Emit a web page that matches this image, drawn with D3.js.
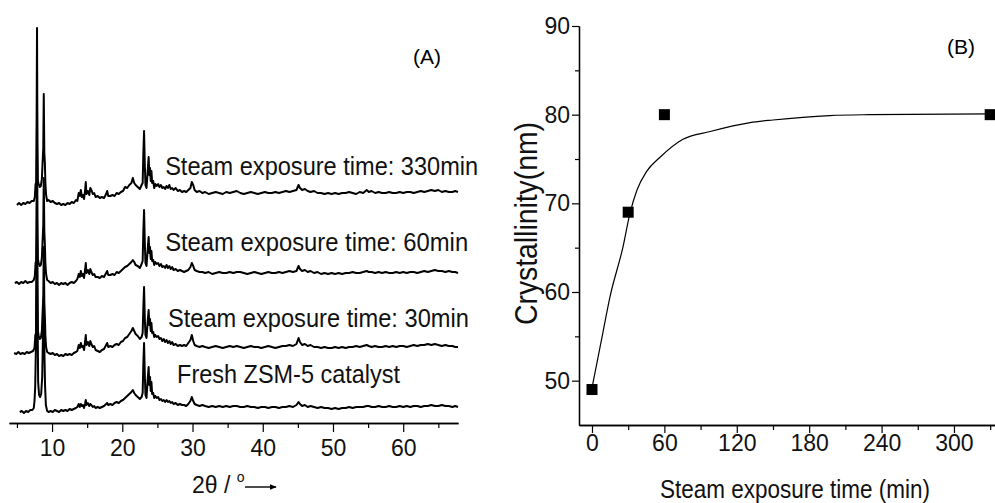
<!DOCTYPE html>
<html><head><meta charset="utf-8">
<script src="https://cdn.jsdelivr.net/npm/d3@7"></script>
<style>body{margin:0;background:#fff}svg{display:block}</style>
</head><body>
<svg id="chart" width="995" height="503"></svg>
<script>
// ---------- Panel A data: XRD patterns, [2theta (deg), intensity (a.u., above own baseline)] ----------
const xrdFresh = [[5.4,-5],[5.7,-4],[6.0,-6],[6.3,-4],[6.6,-5],[6.9,-3],[7.2,-3],[7.4,-1],[7.5,6],[7.6,20],[7.7,60],[7.78,130],[7.86,170],[7.94,90],[8.02,25],[8.15,12],[8.3,10],[8.45,13],[8.6,30],[8.7,70],[8.8,110],[8.9,60],[9.0,22],[9.12,2],[9.3,-4],[9.5,-5],[9.8,-4],[10.1,-5],[10.4,-3],[10.7,-4],[11.0,-5],[11.3,-3],[11.6,-4],[11.9,-3],[12.2,-4],[12.5,-2],[12.8,-3],[13.1,-2],[13.4,-1],[13.6,0],[13.8,3],[13.95,0],[14.1,3],[14.25,1],[14.4,2],[14.55,-1],[14.7,3],[14.8,7],[14.9,2],[15.1,4],[15.3,1],[15.45,3],[15.6,2],[15.8,0],[16.0,1],[16.2,-1],[16.5,0],[16.8,-1],[17.1,0],[17.4,1],[17.7,3],[17.85,4],[18.0,2],[18.3,3],[18.6,2],[18.9,4],[19.2,5],[19.5,4],[19.8,6],[20.1,7],[20.4,9],[20.7,11],[21.0,13],[21.3,15],[21.5,17],[21.7,14],[21.9,12],[22.2,10],[22.5,8],[22.75,10],[22.9,14],[23.0,44],[23.1,64],[23.2,34],[23.3,12],[23.45,9],[23.6,26],[23.75,40],[23.85,22],[23.95,30],[24.05,16],[24.15,25],[24.25,13],[24.4,14],[24.55,9],[24.7,11],[24.9,9],[25.1,10],[25.3,7],[25.5,8],[25.7,6],[25.9,7],[26.1,5],[26.3,7],[26.5,5],[26.7,6],[26.9,4],[27.1,5],[27.3,3],[27.6,4],[27.9,2],[28.2,3],[28.5,2],[28.8,2],[29.1,1],[29.4,3],[29.7,6],[29.9,10],[30.1,6],[30.3,3],[30.6,2],[31.0,1],[31.4,2],[31.8,1],[32.3,0],[32.8,1],[33.3,0],[33.8,1],[34.3,0],[34.8,1],[35.3,0],[35.8,1],[36.3,1],[36.8,0],[37.3,0],[37.8,1],[38.3,0],[38.8,0],[39.3,-1],[39.8,0],[40.3,0],[40.8,-1],[41.3,0],[41.8,0],[42.3,-1],[42.8,0],[43.3,0],[43.8,1],[44.3,0],[44.8,2],[45.1,5],[45.3,3],[45.6,1],[46.0,2],[46.4,0],[46.8,1],[47.3,0],[47.8,-1],[48.3,0],[48.8,-1],[49.3,-1],[49.8,-2],[50.3,-1],[50.8,-2],[51.3,-1],[51.8,-1],[52.3,0],[52.8,-1],[53.3,0],[53.8,0],[54.3,0],[54.8,1],[55.1,1],[55.5,0],[56.0,0],[56.5,1],[57.0,0],[57.5,0],[58.0,1],[58.5,0],[59.0,0],[59.5,1],[60.0,0],[60.5,1],[61.0,0],[61.5,1],[62.0,1],[62.5,0],[63.0,1],[63.5,1],[64.0,2],[64.5,1],[65.0,1],[65.5,2],[66.0,1],[66.5,1],[67.0,0],[67.4,1],[67.8,0]];

const xrd30 = [[4.6,-6],[4.9,-7],[5.2,-5],[5.5,-7],[5.8,-6],[6.1,-7],[6.4,-5],[6.7,-6],[7.0,-5],[7.3,-4],[7.5,-1],[7.62,12],[7.72,14],[7.8,80],[7.86,150],[7.92,60],[7.98,16],[8.1,11],[8.25,8],[8.4,9],[8.55,16],[8.65,34],[8.75,50],[8.82,100],[8.9,45],[8.98,30],[9.05,12],[9.15,0],[9.3,-5],[9.5,-6],[9.8,-7],[10.1,-6],[10.4,-8],[10.7,-7],[11.0,-9],[11.3,-8],[11.6,-9],[11.9,-7],[12.2,-8],[12.5,-7],[12.8,-8],[13.1,-6],[13.4,-5],[13.6,-4],[13.8,2],[13.95,-1],[14.1,4],[14.25,0],[14.4,1],[14.55,-3],[14.7,5],[14.8,12],[14.9,2],[15.1,5],[15.3,1],[15.45,6],[15.6,3],[15.8,0],[16.0,1],[16.2,-3],[16.5,-4],[16.8,-5],[17.1,-3],[17.4,-2],[17.7,2],[17.85,4],[18.0,0],[18.3,1],[18.6,0],[18.9,2],[19.2,3],[19.5,2],[19.8,5],[20.1,6],[20.4,9],[20.7,10],[21.0,13],[21.3,16],[21.5,19],[21.7,16],[21.9,13],[22.2,11],[22.5,8],[22.75,10],[22.9,14],[23.0,40],[23.1,60],[23.2,30],[23.3,12],[23.45,9],[23.6,24],[23.75,37],[23.85,22],[23.95,28],[24.05,16],[24.15,24],[24.25,14],[24.4,15],[24.55,10],[24.7,12],[24.9,10],[25.1,11],[25.3,8],[25.5,9],[25.7,6],[25.9,8],[26.1,5],[26.3,7],[26.5,4],[26.7,6],[26.9,3],[27.1,5],[27.3,2],[27.6,3],[27.9,1],[28.2,2],[28.5,1],[28.8,2],[29.1,1],[29.4,4],[29.7,7],[29.9,12],[30.1,6],[30.3,2],[30.6,1],[31.0,0],[31.4,1],[31.8,0],[32.3,-1],[32.8,0],[33.3,1],[33.8,0],[34.3,-1],[34.8,0],[35.3,1],[35.8,0],[36.3,1],[36.8,0],[37.3,-1],[37.8,0],[38.3,1],[38.8,0],[39.3,0],[39.8,-1],[40.3,0],[40.8,1],[41.3,0],[41.8,-1],[42.3,0],[42.8,1],[43.3,1],[43.8,2],[44.3,1],[44.8,3],[45.1,9],[45.3,5],[45.6,2],[46.0,3],[46.4,1],[46.8,2],[47.3,0],[47.8,0],[48.3,-1],[48.8,0],[49.3,-1],[49.8,-1],[50.3,0],[50.8,-1],[51.3,0],[51.8,-1],[52.3,0],[52.8,0],[53.3,1],[53.8,0],[54.3,1],[54.8,2],[55.1,1],[55.5,0],[56.0,1],[56.5,0],[57.0,0],[57.5,1],[58.0,0],[58.5,1],[59.0,0],[59.5,1],[60.0,1],[60.5,0],[61.0,1],[61.5,2],[62.0,1],[62.5,2],[63.0,2],[63.5,3],[64.0,2],[64.5,3],[65.0,2],[65.5,1],[66.0,2],[66.5,1],[67.0,1],[67.4,0],[67.8,0]];

const xrd60 = [[4.7,-10],[5.0,-9],[5.3,-11],[5.6,-9],[5.9,-10],[6.2,-8],[6.5,-10],[6.8,-9],[7.1,-9],[7.4,-7],[7.55,-3],[7.65,10],[7.74,12],[7.8,75],[7.86,160],[7.92,55],[7.98,14],[8.1,10],[8.25,7],[8.4,8],[8.55,15],[8.65,32],[8.75,48],[8.82,95],[8.9,42],[8.98,28],[9.05,10],[9.15,-1],[9.3,-7],[9.5,-8],[9.8,-10],[10.1,-9],[10.4,-11],[10.7,-10],[11.0,-12],[11.3,-10],[11.6,-11],[11.9,-10],[12.2,-12],[12.5,-10],[12.8,-9],[13.1,-10],[13.4,-8],[13.6,-6],[13.8,-1],[13.95,-4],[14.1,2],[14.25,-3],[14.4,-1],[14.55,-5],[14.7,3],[14.8,10],[14.9,0],[15.1,3],[15.3,-1],[15.45,4],[15.6,1],[15.8,-2],[16.0,-1],[16.2,-4],[16.5,-4],[16.8,-5],[17.1,-3],[17.4,-4],[17.7,0],[17.85,2],[18.0,-2],[18.3,-2],[18.6,-1],[18.9,-2],[19.2,1],[19.5,0],[19.8,2],[20.1,4],[20.4,6],[20.7,7],[21.0,9],[21.3,11],[21.5,13],[21.7,11],[21.9,8],[22.2,7],[22.5,5],[22.75,9],[22.9,12],[23.0,42],[23.1,63],[23.2,32],[23.3,10],[23.45,7],[23.6,22],[23.75,36],[23.85,20],[23.95,26],[24.05,14],[24.15,22],[24.25,12],[24.4,13],[24.55,8],[24.7,11],[24.9,9],[25.1,10],[25.3,7],[25.5,9],[25.7,6],[25.9,7],[26.1,5],[26.3,8],[26.5,5],[26.7,7],[26.9,4],[27.1,6],[27.3,3],[27.6,4],[27.9,2],[28.2,3],[28.5,2],[28.8,1],[29.1,2],[29.4,3],[29.7,6],[29.9,10],[30.1,7],[30.3,3],[30.6,2],[31.0,1],[31.4,1],[31.8,0],[32.3,1],[32.8,-1],[33.3,0],[33.8,1],[34.3,0],[34.8,0],[35.3,1],[35.8,0],[36.3,1],[36.8,1],[37.3,0],[37.8,-1],[38.3,0],[38.8,1],[39.3,0],[39.8,-1],[40.3,0],[40.8,1],[41.3,0],[41.8,0],[42.3,1],[42.8,0],[43.3,1],[43.8,2],[44.3,1],[44.8,2],[45.1,7],[45.3,4],[45.6,2],[46.0,3],[46.4,1],[46.8,2],[47.3,0],[47.8,1],[48.3,-1],[48.8,0],[49.3,-1],[49.8,0],[50.3,-1],[50.8,0],[51.3,-1],[51.8,0],[52.3,0],[52.8,1],[53.3,0],[53.8,0],[54.3,1],[54.8,2],[55.1,1],[55.5,1],[56.0,0],[56.5,1],[57.0,0],[57.5,1],[58.0,0],[58.5,0],[59.0,1],[59.5,0],[60.0,1],[60.5,0],[61.0,1],[61.5,1],[62.0,0],[62.5,1],[63.0,2],[63.5,1],[64.0,2],[64.5,3],[65.0,2],[65.5,2],[66.0,1],[66.5,2],[67.0,1],[67.4,1],[67.8,0]];

const xrd330 = [[5.0,-12],[5.3,-10],[5.6,-12],[5.9,-10],[6.2,-11],[6.5,-9],[6.8,-10],[7.1,-8],[7.4,-8],[7.55,-4],[7.65,9],[7.74,10],[7.8,70],[7.86,165],[7.92,50],[7.98,12],[8.1,9],[8.25,6],[8.4,7],[8.55,14],[8.65,30],[8.75,45],[8.82,99],[8.9,40],[8.98,30],[9.05,10],[9.15,-2],[9.3,-8],[9.5,-7],[9.8,-9],[10.1,-8],[10.4,-10],[10.7,-11],[11.0,-10],[11.3,-12],[11.6,-11],[11.9,-12],[12.2,-10],[12.5,-11],[12.8,-9],[13.1,-10],[13.4,-7],[13.6,-8],[13.8,0],[13.95,-3],[14.1,3],[14.25,-4],[14.4,-2],[14.55,-6],[14.7,2],[14.8,11],[14.9,-1],[15.1,2],[15.3,-2],[15.45,5],[15.6,3],[15.8,-1],[16.0,0],[16.2,-4],[16.5,-3],[16.8,-5],[17.1,-4],[17.4,-5],[17.7,-1],[17.85,2],[18.0,-3],[18.3,-3],[18.6,-2],[18.9,-3],[19.2,0],[19.5,-1],[19.8,1],[20.1,2],[20.4,6],[20.7,5],[21.0,8],[21.3,10],[21.5,15],[21.7,10],[21.9,8],[22.2,6],[22.5,4],[22.75,8],[22.9,10],[23.0,40],[23.1,62],[23.2,30],[23.3,8],[23.45,5],[23.6,20],[23.75,36],[23.85,18],[23.95,25],[24.05,12],[24.15,22],[24.25,10],[24.4,12],[24.55,5],[24.7,9],[24.9,7],[25.1,9],[25.3,6],[25.5,8],[25.7,5],[25.9,6],[26.1,4],[26.3,7],[26.5,5],[26.7,8],[26.9,4],[27.1,5],[27.3,3],[27.6,5],[27.9,2],[28.2,3],[28.5,1],[28.8,2],[29.1,1],[29.4,3],[29.7,5],[29.9,11],[30.1,8],[30.3,3],[30.6,1],[31.0,2],[31.4,0],[31.8,1],[32.3,-1],[32.8,0],[33.3,1],[33.8,0],[34.3,-1],[34.8,1],[35.3,0],[35.8,1],[36.3,2],[36.8,0],[37.3,-1],[37.8,0],[38.3,1],[38.8,0],[39.3,-1],[39.8,0],[40.3,1],[40.8,0],[41.3,0],[41.8,1],[42.3,0],[42.8,1],[43.3,2],[43.8,1],[44.3,2],[44.8,3],[45.1,8],[45.3,5],[45.6,3],[46.0,4],[46.4,2],[46.8,1],[47.3,2],[47.8,0],[48.3,0],[48.8,-1],[49.3,0],[49.8,-1],[50.3,0],[50.8,-1],[51.3,0],[51.8,0],[52.3,1],[52.8,0],[53.3,-1],[53.8,1],[54.3,0],[54.8,3],[55.1,1],[55.5,2],[56.0,0],[56.5,1],[57.0,0],[57.5,0],[58.0,1],[58.5,0],[59.0,0],[59.5,1],[60.0,0],[60.5,1],[61.0,1],[61.5,0],[62.0,1],[62.5,2],[63.0,1],[63.5,2],[64.0,3],[64.5,2],[65.0,3],[65.5,1],[66.0,2],[66.5,1],[67.0,1],[67.4,2],[67.8,1]];

const traceSeries  = [xrdFresh, xrd30, xrd60, xrd330];
const traceOffsets = [16, 76, 150, 230];
const traceLabels  = ["Fresh ZSM-5 catalyst", "Steam exposure time: 30min", "Steam exposure time: 60min", "Steam exposure time: 330min"];
const thetaTicks   = [10, 20, 30, 40, 50, 60];
const thetaMinor   = [5, 15, 25, 35, 45, 55, 65];

// ---------- Panel B data ----------
const crystTime  = [0, 30, 60, 330];
const crystValue = [49, 69, 80, 80];
const fitTime    = [0, 9, 15, 25.7, 31.5, 37.3, 45.3, 56.4, 75, 98, 131, 150, 197, 230, 330];
const fitValue   = [49.2, 55.4, 59.5, 65.1, 68.9, 71.5, 73.6, 75.2, 77.2, 78.1, 79.1, 79.4, 79.9, 80.0, 80.1];
const timeTicks  = [0, 60, 120, 180, 240, 300];
const timeMinor  = [30, 90, 150, 210, 270, 330];
const crystTicks = [50, 60, 70, 80, 90];
const crystMinor = [55, 65, 75, 85];

// ---------- layout ----------
const FONT = "'Liberation Sans', Arial, Helvetica, sans-serif";
const svg = d3.select("#chart").style("font-family", FONT);

// ===== Panel A =====
const xA = d3.scaleLinear().domain([3.87, 67.8]).range([9, 458]);
const yA = d3.scaleLinear().domain([0, 403]).range([423, 20]);
const gA = svg.append("g");

const lineA = off => d3.line().x(d => xA(d[0])).y(d => yA(d[1] + off));
traceSeries.forEach((s, i) => {
  gA.append("path").datum(s)
    .attr("d", lineA(traceOffsets[i]))
    .attr("fill", "none").attr("stroke", "#000")
    .attr("stroke-width", 2).attr("stroke-linejoin", "round");
});

const labelTheta = [27.8, 26.5, 26.1, 26.1];
const labelGap   = [24, 20, 22, 18];
const labelLen   = [223, 301, 303, 313];
traceLabels.forEach((t, i) => {
  gA.append("text").text(t)
    .attr("x", xA(labelTheta[i])).attr("y", yA(traceOffsets[i]) - labelGap[i])
    .attr("font-size", 26).attr("textLength", labelLen[i])
    .attr("lengthAdjust", "spacingAndGlyphs").attr("fill", "#111");
});

const axA = gA.append("g").attr("transform", "translate(0,423)");
axA.call(d3.axisBottom(xA).tickValues(thetaTicks).tickSize(9).tickPadding(8).tickSizeOuter(0));
axA.append("g").call(d3.axisBottom(xA).tickValues(thetaMinor).tickSize(5).tickFormat("").tickSizeOuter(0));
axA.selectAll("path.domain").attr("stroke-width", 1.3);
axA.selectAll(".tick line").attr("stroke-width", 1.2);
axA.selectAll("text").attr("font-size", 23).attr("font-family", FONT).attr("fill", "#111");

gA.append("text").attr("x", 427).attr("y", 64).attr("text-anchor", "middle")
  .attr("font-size", 21).text("(A)");

// x axis title: 2θ / °  ──►
const tA = gA.append("text").attr("x", 192).attr("y", 493).attr("font-size", 23).attr("fill", "#111");
tA.append("tspan").text("2θ / ");
tA.append("tspan").attr("font-size", 14).attr("dy", -11).text("o");
svg.append("defs").append("marker").attr("id", "arr").attr("viewBox", "0 0 10 10")
  .attr("refX", 9).attr("refY", 5).attr("markerWidth", 7).attr("markerHeight", 7)
  .attr("orient", "auto").attr("markerUnits", "userSpaceOnUse")
  .append("path").attr("d", "M0,1 L10,5 L0,9 z").attr("fill", "#000");
gA.append("line").attr("x1", 245).attr("x2", 276).attr("y1", 487).attr("y2", 487)
  .attr("stroke", "#000").attr("stroke-width", 1.4).attr("marker-end", "url(#arr)");

// ===== Panel B =====
const xB = d3.scaleLinear().domain([-10.77, 334]).range([579, 995]);
const yB = d3.scaleLinear().domain([45, 90]).range([425, 26]);
const gB = svg.append("g");

const axBx = gB.append("g").attr("transform", "translate(0,425)");
axBx.call(d3.axisBottom(xB).tickValues(timeTicks).tickSize(8).tickPadding(2).tickSizeOuter(0));
axBx.append("g").call(d3.axisBottom(xB).tickValues(timeMinor).tickSize(5).tickFormat("").tickSizeOuter(0));
const axBy = gB.append("g").attr("transform", "translate(579,0)");
axBy.call(d3.axisLeft(yB).tickValues(crystTicks).tickSize(7).tickPadding(2).tickSizeOuter(0));
axBy.append("g").call(d3.axisLeft(yB).tickValues(crystMinor).tickSize(4).tickFormat("").tickSizeOuter(0));
gB.selectAll("path.domain").attr("stroke-width", 1.3);
gB.selectAll(".tick line").attr("stroke-width", 1.2);
gB.selectAll("text").attr("font-size", 23).attr("font-family", FONT).attr("fill", "#111");

const fitPts = fitTime.map((t, i) => [t, fitValue[i]]);
gB.append("path").datum(fitPts)
  .attr("d", d3.line().x(d => xB(d[0])).y(d => yB(d[1])).curve(d3.curveMonotoneX))
  .attr("fill", "none").attr("stroke", "#000").attr("stroke-width", 1.2);

gB.selectAll("rect.pt").data(crystTime.map((t, i) => [t, crystValue[i]])).enter()
  .append("rect").attr("class", "pt")
  .attr("x", d => xB(d[0]) - 5.5).attr("y", d => yB(d[1]) - 5.5)
  .attr("width", 11).attr("height", 11).attr("fill", "#000");

gB.append("text").attr("x", 961).attr("y", 54).attr("text-anchor", "middle")
  .attr("font-size", 21).text("(B)");

gB.append("text").attr("x", 795).attr("y", 498).attr("text-anchor", "middle")
  .attr("font-size", 25).attr("textLength", 270).attr("lengthAdjust", "spacingAndGlyphs")
  .attr("fill", "#111").text("Steam exposure time (min)");

gB.append("text").attr("transform", "translate(537,223.5) rotate(-90)")
  .attr("text-anchor", "middle").attr("font-size", 31)
  .attr("textLength", 203).attr("lengthAdjust", "spacingAndGlyphs")
  .attr("fill", "#111").text("Crystallinity(nm)");
</script>
</body></html>
